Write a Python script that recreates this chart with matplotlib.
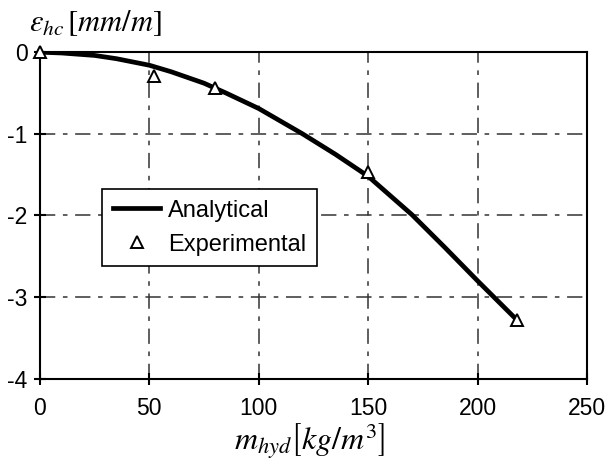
import matplotlib
matplotlib.use("Agg")
import matplotlib.pyplot as plt
from matplotlib.ticker import FuncFormatter

# analytical curve
mhyd_an = [0, 10, 25, 35, 50, 60, 75, 85, 100, 120, 135, 150, 170, 185, 200, 218]
eps_an = [0, -0.01, -0.04, -0.08, -0.16, -0.24, -0.38, -0.5, -0.69, -1.0, -1.25,
          -1.52, -1.99, -2.39, -2.8, -3.28]

# experimental points
mhyd_ex = [0, 52, 80, 150, 218]
eps_ex = [0, -0.29, -0.44, -1.47, -3.28]

xticks = [0, 50, 100, 150, 200, 250]
yticks = [0, -1, -2, -3, -4]

plt.rcParams["font.family"] = ["Liberation Sans", "DejaVu Sans"]
plt.rcParams["mathtext.fontset"] = "stix"

fig = plt.figure(figsize=(6.14, 4.70), dpi=100)
ax = fig.add_axes([0.065, 0.194, 0.891, 0.695])

ax.plot(mhyd_an, eps_an, color="black", lw=3.4, label="Analytical", zorder=3,
        solid_joinstyle="round")
ax.plot(mhyd_ex, eps_ex, ls="none", marker="^", ms=8, mfc="white", mec="black",
        mew=1.4, label="Experimental", zorder=4, clip_on=False)

ax.set_xlim(0, 250)
ax.set_ylim(-4, 0)
ax.set_xticks(xticks)
ax.set_yticks(yticks)
ax.yaxis.set_major_formatter(FuncFormatter(lambda v, p: "%d" % v))
ax.tick_params(labelsize=16.5, direction="inout", length=8, width=1.5)
ax.tick_params(axis="x", pad=9)
ax.tick_params(axis="y", pad=5)

for s in ax.spines.values():
    s.set_linewidth(1.5)

ax.grid(True, color="#333333", lw=1.1, linestyle=(0, (10, 5, 3, 5)))

leg = ax.legend(loc="lower left", bbox_to_anchor=(0.114, 0.345), fontsize=17,
                frameon=True, fancybox=False, edgecolor="black", framealpha=1,
                handlelength=2.0, handletextpad=0.35, borderpad=0.45,
                labelspacing=0.5, borderaxespad=0)
leg.get_frame().set_linewidth(1.2)

fig.text(0.048, 0.95, r"$\varepsilon_{hc}\,\left[mm/m\right]$", fontsize=22, va="center")
fig.text(0.505, 0.062, r"$m_{hyd}\left[kg/m^3\right]$", fontsize=23, ha="center", va="center")

fig.savefig("out.png", dpi=100)
